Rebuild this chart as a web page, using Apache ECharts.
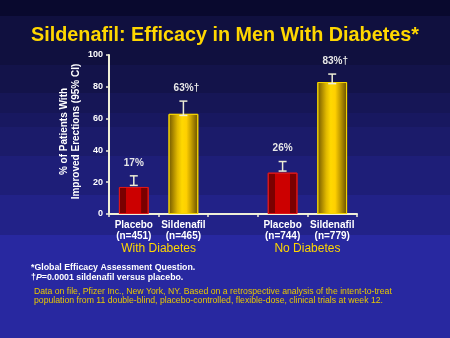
<!DOCTYPE html>
<html><head><meta charset="utf-8">
<script src="https://cdn.jsdelivr.net/npm/echarts@6/dist/echarts.min.js"></script>
<style>html,body{margin:0;padding:0;background:#10103f}#c{width:450px;height:338px}</style>
</head><body><div id="c"></div>
<script>
const categories = ['Placebo\n(n=451)', 'Sildenafil\n(n=465)', '', 'Placebo\n(n=744)', 'Sildenafil\n(n=779)'];
const values = [17, 63, null, 26, 83];
const errLow = [18, 62, null, 27, 82];
const errHigh = [24, 71, null, 33, 88];
const valueLabels = ['17%', '63%†', '', '26%', '83%†'];
const barKind = ['placebo', 'sildenafil', null, 'placebo', 'sildenafil'];
const groups = [{name: 'With Diabetes', from: 0, to: 1}, {name: 'No Diabetes', from: 3, to: 4}];
const yTicks = [0, 20, 40, 60, 80, 100];
const yAxisTitle = '% of Patients With\nImproved Erections (95% CI)';

const FONT = '"Liberation Sans", Arial, sans-serif';
const redFill = {type: 'linear', x: 0, y: 0, x2: 1, y2: 0, colorStops: [
  {offset: 0, color: '#7a0000'}, {offset: 0.24, color: '#7a0000'}, {offset: 0.25, color: '#cc0000'},
  {offset: 0.75, color: '#cc0000'}, {offset: 0.76, color: '#7a0000'}, {offset: 1, color: '#7a0000'}]};
const goldFill = {type: 'linear', x: 0, y: 0, x2: 1, y2: 0, colorStops: [
  {offset: 0, color: '#6e5600'}, {offset: 0.15, color: '#a88600'}, {offset: 0.3, color: '#e0b800'},
  {offset: 0.45, color: '#ffd800'}, {offset: 0.6, color: '#ffd000'}, {offset: 0.75, color: '#c9a200'},
  {offset: 0.9, color: '#8c6e00'}, {offset: 1, color: '#6a5200'}]};

const bands = [[0,16,'#09092e'],[16,65,'#10103f'],[65,93,'#13134a'],[93,113,'#161656'],[113,127,'#181860'],
  [127,156,'#1b1b6a'],[156,195,'#1e1e78'],[195,235,'#222288'],[235,338,'#2828a0']];

const chart = echarts.init(document.getElementById('c'), null, {renderer: 'canvas'});
const bgGraphics = bands.map(b => ({type: 'rect', z: -10, silent: true,
  shape: {x: 0, y: b[0], width: 450, height: b[1] - b[0]}, style: {fill: b[2]}}));

const option = {
  animation: false,
  backgroundColor: '#10103f',
  title: {text: 'Sildenafil: Efficacy in Men With Diabetes*', left: 'center', top: 21,
    textStyle: {color: '#ffd700', fontFamily: FONT, fontWeight: 'bold', fontSize: 19.8}},
  grid: {left: 109, right: 93, top: 55, bottom: 124},
  xAxis: {type: 'category', data: categories,
    axisLine: {lineStyle: {color: '#f0f0d8', width: 2}},
    axisTick: {show: true, length: 3, lineStyle: {color: '#f0f0d8', width: 1.5}},
    axisLabel: {color: '#ffffff', fontFamily: FONT, fontWeight: 'bold', fontSize: 10, lineHeight: 11, margin: 6, interval: 0}},
  yAxis: {type: 'value', min: 0, max: 100, interval: 20,
    axisLine: {show: true, lineStyle: {color: '#f0f0d8', width: 2}},
    axisTick: {show: true, length: 3, lineStyle: {color: '#f0f0d8', width: 1.5}},
    splitLine: {show: false},
    axisLabel: {color: '#ffffff', fontFamily: FONT, fontWeight: 'bold', fontSize: 9, margin: 6,
      formatter: v => yTicks.includes(v) ? String(v) : ''}},
  series: [
    {type: 'bar', barWidth: '60%',
      data: values.map((v, i) => v == null ? null : {value: v, itemStyle: barKind[i] === 'placebo'
        ? {color: redFill, borderColor: '#e01818', borderWidth: 1}
        : {color: goldFill, borderColor: '#f5d400', borderWidth: 1}})},
    {type: 'custom', z: 5,
      data: values.map((v, i) => [i, errLow[i], errHigh[i]]),
      renderItem: function (params, api) {
        const i = api.value(0);
        if (errLow[i] == null) return null;
        const lo = api.coord([i, api.value(1)]);
        const hi = api.coord([i, api.value(2)]);
        const hw = 4;
        const st = {stroke: '#ececd4', lineWidth: 1.5};
        return {type: 'group', children: [
          {type: 'line', shape: {x1: lo[0], y1: lo[1], x2: hi[0], y2: hi[1]}, style: st},
          {type: 'line', shape: {x1: lo[0] - hw, y1: lo[1], x2: lo[0] + hw, y2: lo[1]}, style: st},
          {type: 'line', shape: {x1: hi[0] - hw, y1: hi[1], x2: hi[0] + hw, y2: hi[1]}, style: st},
          {type: 'text', style: {text: valueLabels[i], x: hi[0] + (valueLabels[i].includes('†') ? 3 : 0), y: hi[1] - 13,
            align: 'center', verticalAlign: 'middle', fill: '#e8e8e8', font: 'bold 10px ' + FONT}}
        ]};
      }}
  ],
  graphic: bgGraphics
};
chart.setOption(option);

const extra = [];
const yMid = chart.convertToPixel({yAxisIndex: 0}, 50);
extra.push({type: 'text', x: 70, y: yMid - 3, rotation: Math.PI / 2, style: {text: yAxisTitle, fill: '#ffffff',
  font: 'bold 10px ' + FONT, lineHeight: 12, align: 'center', verticalAlign: 'middle'}});
groups.forEach(g => {
  const a = chart.convertToPixel({xAxisIndex: 0}, g.from);
  const b = chart.convertToPixel({xAxisIndex: 0}, g.to);
  extra.push({type: 'text', x: (a + b) / 2, y: 249, style: {text: g.name, fill: '#ffd700',
    font: '12px ' + FONT, align: 'center', verticalAlign: 'middle'}});
});
extra.push({type: 'text', x: 31, y: 268, style: {text: '*Global Efficacy Assessment Question.', fill: '#ffffff',
  font: 'bold 8.8px ' + FONT, verticalAlign: 'middle'}});
extra.push({type: 'text', x: 31, y: 278, style: {rich: {
    n: {fill: '#ffffff', font: 'bold 8.8px ' + FONT},
    i: {fill: '#ffffff', font: 'italic bold 8.8px ' + FONT}},
  text: '{n|†}{i|P}{n|=0.0001 sildenafil versus placebo.}', verticalAlign: 'middle'}});
extra.push({type: 'text', x: 34, y: 291.5, style: {text: 'Data on file, Pfizer Inc., New York, NY. Based on a retrospective analysis of the intent-to-treat',
  fill: '#e8c800', font: '8.7px ' + FONT, verticalAlign: 'middle'}});
extra.push({type: 'text', x: 34, y: 301, style: {text: 'population from 11 double-blind, placebo-controlled, flexible-dose, clinical trials at week 12.',
  fill: '#e8c800', font: '8.7px ' + FONT, verticalAlign: 'middle'}});
chart.setOption({graphic: bgGraphics.concat(extra)});
</script></body></html>
